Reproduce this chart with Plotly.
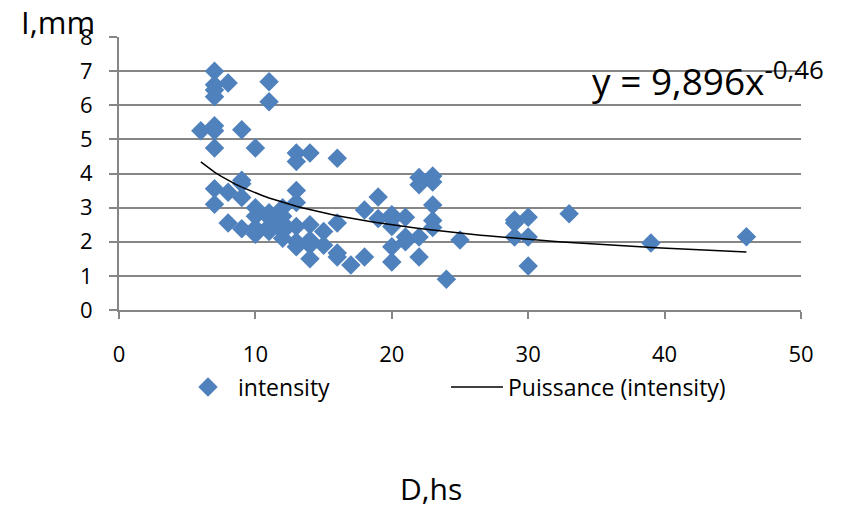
import plotly.graph_objects as go

# data: D (hours) and intensity (mm)
d_hours = (
    [6]
    + [7] * 9
    + [8] * 3
    + [9] * 5
    + [10] * 5
    + [11] * 6
    + [12] * 5
    + [13] * 7
    + [14] * 5
    + [15] * 2
    + [16] * 4
    + [17]
    + [18] * 2
    + [19] * 2
    + [20] * 5
    + [21] * 3
    + [22] * 4
    + [23] * 5
    + [24]
    + [25]
    + [29] * 3
    + [30] * 3
    + [33]
    + [39]
    + [46]
)
intensity = [
    5.25,
    7.0, 6.6, 6.45, 6.25, 5.4, 5.25, 4.75, 3.55, 3.1,
    6.65, 3.45, 2.55,
    5.28, 3.8, 3.7, 3.3, 2.38,
    4.75, 3.0, 2.75, 2.4, 2.22,
    6.69, 6.1, 2.85, 2.7, 2.45, 2.3,
    3.0, 2.75, 2.55, 2.3, 2.1,
    4.6, 4.35, 3.5, 3.15, 2.45, 2.0, 1.85,
    4.6, 2.5, 2.05, 1.9, 1.5,
    2.3, 1.9,
    4.45, 2.55, 1.67, 1.55,
    1.32,
    2.93, 1.55,
    3.31, 2.68,
    2.79, 2.65, 2.45, 1.85, 1.41,
    2.72, 2.14, 2.0,
    3.88, 3.67, 2.14, 1.55,
    3.93, 3.75, 3.08, 2.62, 2.42,
    0.9,
    2.05,
    2.64, 2.55, 2.14,
    2.72, 2.14, 1.29,
    2.82,
    1.96,
    2.15,
]

# power trendline shown on the chart: y = 9,896 x^-0,46
trend_a = 9.896
trend_b = -0.46
trend_x = [6 + 0.5 * i for i in range(81)]
trend_y = [trend_a * x ** trend_b for x in trend_x]

x_ticks = [0, 10, 20, 30, 40, 50]
y_ticks = [0, 1, 2, 3, 4, 5, 6, 7, 8]

FONT = "Open Sans"
GRID = "#868686"

# plot area in page pixels: x 119..801, y 37..310
PL, PR, PT, PB = 119, 801, 37, 310
def px(xp):
    return (xp - PL) / (PR - PL)
def py(yp):
    return (PB - yp) / (PB - PT)

fig = go.Figure()
fig.add_trace(go.Scatter(
    x=d_hours, y=intensity, mode="markers", name="intensity",
    marker=dict(symbol="diamond", size=15, color="#4F81BD", line=dict(width=0)),
    legend="legend",
))
fig.add_trace(go.Scatter(
    x=trend_x, y=trend_y, mode="lines", name="Puissance (intensity)",
    line=dict(color="black", width=1.5),
    legend="legend2",
))

fig.update_layout(
    width=846, height=509,
    margin=dict(l=PL, r=846 - PR, t=PT, b=509 - PB),
    paper_bgcolor="white", plot_bgcolor="white",
    font=dict(family=FONT, size=22, color="black"),
    showlegend=True,
    legend=dict(x=px(178), y=py(387), xanchor="left", yanchor="middle", itemwidth=50,
                font=dict(size=23), bgcolor="rgba(0,0,0,0)", borderwidth=0),
    legend2=dict(x=px(446), y=py(387), xanchor="left", yanchor="middle", itemwidth=52,
                 font=dict(size=23), bgcolor="rgba(0,0,0,0)", borderwidth=0),
    xaxis=dict(
        range=[0, 50], tickvals=x_ticks, ticks="outside", ticklen=7, tickcolor=GRID,
        tickwidth=1.5, showline=True, linecolor=GRID, linewidth=2, showgrid=False,
        zeroline=False, ticklabelstandoff=17,
    ),
    yaxis=dict(
        range=[0, 8], tickvals=y_ticks, ticks="outside", ticklen=8, tickcolor=GRID,
        tickwidth=1.5, showline=True, linecolor=GRID, linewidth=2, showgrid=True,
        gridcolor=GRID, gridwidth=1.5, zeroline=False, ticklabelstandoff=12,
    ),
    annotations=[
        dict(text="I,mm", xref="paper", yref="paper", x=px(19), y=py(22),
             xanchor="left", yanchor="middle", showarrow=False, font=dict(size=31)),
        dict(text="D,hs", xref="paper", yref="paper", x=px(431), y=py(488),
             xanchor="center", yanchor="middle", showarrow=False, font=dict(size=30)),
        dict(text="y = 9,896x<sup>-0,46</sup>", xref="paper", yref="paper",
             x=px(590), y=py(78),
             xanchor="left", yanchor="middle", showarrow=False, font=dict(size=37)),
    ],
)

fig.write_html(
    "out.html",
    config={"displayModeBar": False},
    post_script="document.body.style.margin='0';document.body.style.overflow='hidden';",
)
